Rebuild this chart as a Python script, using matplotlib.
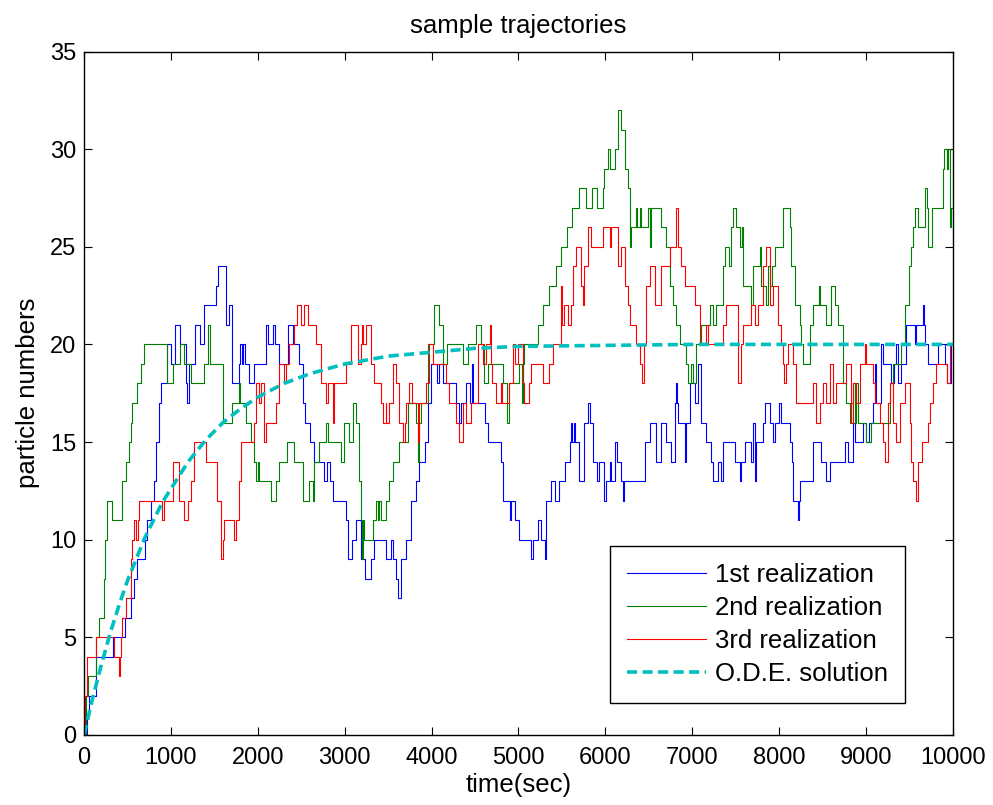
import matplotlib
matplotlib.use('Agg')
import matplotlib.pyplot as plt

# step trajectories: (time, particle number) at each jump
blue = [(0, 0), (30, 1), (60, 2), (134, 4), (330, 5), (440, 5), (470, 6), (540, 7), (580, 8),
        (615, 9), (700, 10), (730, 11), (770, 12), (800, 13), (830, 15), (860, 17), (890, 18), (950, 20),
        (1000, 19), (1050, 21), (1100, 20), (1170, 18), (1180, 17), (1210, 19), (1280, 21), (1330, 20),
        (1380, 22), (1517, 23), (1544, 24), (1632, 21), (1670, 22), (1701, 18), (1780, 19), (1800, 20),
        (1815, 19), (1830, 20), (1850, 19), (1900, 18), (1960, 19), (2090, 21), (2120, 20), (2180, 21),
        (2200, 20), (2240, 19), (2350, 21), (2400, 20), (2470, 19), (2520, 17), (2540, 16), (2600, 15),
        (2650, 14), (2760, 13), (2800, 14), (2830, 13), (2860, 12), (3015, 11), (3035, 9), (3090, 10),
        (3130, 11), (3190, 9), (3230, 8), (3300, 9), (3340, 10), (3480, 9), (3530, 10), (3560, 9),
        (3590, 8), (3610, 7), (3650, 9), (3710, 10), (3760, 12), (3820, 13), (3860, 14), (3920, 15),
        (3960, 17), (3995, 19), (4060, 18), (4080, 19), (4130, 18), (4280, 17), (4320, 16), (4340, 17),
        (4400, 18), (4440, 17), (4460, 19), (4475, 17), (4610, 16), (4650, 15), (4800, 14), (4820, 12),
        (4900, 11), (4910, 12), (4955, 11), (5005, 10), (5145, 9), (5165, 10), (5220, 11), (5260, 10),
        (5300, 9), (5320, 12), (5380, 13), (5420, 12), (5470, 13), (5540, 14), (5590, 15), (5610, 16),
        (5620, 15), (5640, 16), (5650, 15), (5700, 13), (5760, 16), (5800, 17), (5820, 16), (5855, 14),
        (5900, 13), (5930, 14), (5990, 12), (6010, 13), (6050, 14), (6070, 13), (6106, 15), (6140, 14),
        (6183, 13), (6200, 12), (6220, 13), (6451, 15), (6509, 16), (6586, 14), (6643, 16), (6701, 15),
        (6759, 14), (6797, 17), (6810, 18), (6820, 17), (6835, 16), (6912, 14), (6931, 16), (6970, 18),
        (7027, 17), (7066, 19), (7104, 16), (7162, 15), (7219, 14), (7239, 13), (7296, 14), (7330, 13),
        (7354, 15), (7488, 14), (7546, 13), (7565, 14), (7604, 15), (7681, 14), (7700, 16), (7719, 13),
        (7738, 15), (7815, 16), (7834, 17), (7892, 16), (7930, 15), (7949, 16), (8000, 17), (8026, 16),
        (8122, 15), (8150, 14), (8161, 12), (8218, 11), (8228, 12), (8237, 13), (8391, 15), (8487, 14),
        (8545, 13), (8583, 14), (8756, 15), (8794, 14), (8852, 16), (8871, 15), (8967, 16), (9000, 15),
        (9040, 16), (9082, 17), (9101, 19), (9110, 17), (9178, 20), (9197, 19), (9293, 18), (9320, 19),
        (9350, 20), (9370, 18), (9408, 19), (9466, 21), (9562, 20), (9581, 21), (9655, 22), (9662, 21),
        (9677, 20), (9715, 19), (9830, 20), (9907, 19), (9927, 18), (9984, 20), (10000, 20)]

green = [(0, 0), (20, 2), (50, 3), (134, 5), (173, 6), (231, 8), (245, 10), (269, 12), (327, 11),
         (442, 13), (481, 14), (519, 15), (540, 16), (558, 17), (615, 18), (654, 19), (690, 20), (960, 18),
         (1020, 19), (1100, 20), (1150, 19), (1230, 18), (1385, 19), (1430, 21), (1445, 19), (1594, 16),
         (1709, 17), (1786, 18), (1790, 17), (1862, 16), (1920, 15), (1958, 14), (1978, 13), (2000, 14),
         (2010, 13), (2150, 12), (2208, 13), (2246, 14), (2342, 15), (2419, 14), (2515, 12), (2592, 13),
         (2630, 12), (2650, 14), (2707, 15), (2784, 16), (2803, 15), (2957, 14), (2996, 16), (3050, 15),
         (3092, 17), (3130, 16), (3168, 13), (3188, 11), (3200, 9), (3215, 11), (3226, 10), (3322, 11),
         (3360, 12), (3380, 11), (3400, 12), (3418, 11), (3480, 12), (3514, 13), (3552, 14), (3629, 15),
         (3725, 17), (3821, 16), (3840, 14), (3860, 16), (3879, 17), (3956, 20), (4032, 22), (4090, 21),
         (4128, 19), (4180, 20), (4359, 19), (4417, 20), (4512, 21), (4570, 20), (4608, 18), (4646, 19),
         (4819, 18), (4865, 16), (4888, 18), (5011, 19), (5040, 17), (5050, 19), (5069, 20), (5222, 21),
         (5280, 22), (5357, 23), (5433, 24), (5491, 25), (5560, 26), (5620, 27), (5700, 28), (5780, 27),
         (5850, 28), (5900, 27), (5971, 28), (5990, 29), (6029, 30), (6048, 29), (6106, 30), (6144, 32),
         (6183, 31), (6221, 29), (6260, 28), (6279, 25), (6298, 26), (6350, 27), (6360, 26), (6400, 27),
         (6410, 26), (6490, 27), (6510, 25), (6528, 27), (6643, 26), (6701, 25), (6739, 23), (6778, 22),
         (6816, 21), (6854, 20), (6931, 19), (6951, 18), (6990, 19), (7010, 18), (7047, 20), (7085, 21),
         (7200, 22), (7239, 21), (7277, 22), (7354, 24), (7373, 25), (7420, 24), (7450, 26), (7470, 27),
         (7508, 26), (7546, 25), (7570, 26), (7585, 23), (7681, 22), (7700, 24), (7777, 25), (7790, 24),
         (7796, 23), (7853, 22), (7873, 24), (7892, 23), (7920, 24), (7949, 25), (8045, 27), (8122, 26),
         (8141, 24), (8180, 22), (8237, 21), (8257, 20), (8276, 19), (8353, 21), (8391, 22), (8460, 23),
         (8475, 22), (8545, 21), (8602, 23), (8641, 22), (8679, 21), (8737, 18), (8775, 17), (8813, 16),
         (8830, 17), (8851, 18), (8870, 16), (8890, 18), (8909, 16), (9005, 15), (9060, 16), (9274, 18),
         (9312, 19), (9408, 20), (9447, 22), (9497, 24), (9523, 25), (9543, 26), (9562, 27), (9600, 26),
         (9677, 28), (9700, 27), (9715, 25), (9754, 27), (9888, 29), (9900, 30), (9927, 29), (9940, 30),
         (9965, 26), (9984, 27), (10000, 27)]

red = [(0, 0), (10, 2), (38, 4), (134, 5), (346, 4), (405, 3), (412, 4), (420, 5), (442, 6), (481, 7),
       (538, 9), (558, 10), (577, 11), (600, 10), (620, 11), (635, 12), (900, 11), (920, 12), (1019, 14),
       (1096, 12), (1150, 11), (1192, 12), (1230, 13), (1269, 15), (1400, 14), (1536, 12), (1574, 9),
       (1594, 10), (1613, 11), (1728, 10), (1747, 11), (1786, 13), (1805, 15), (1958, 16), (1978, 18),
       (2016, 17), (2035, 18), (2074, 15), (2100, 16), (2208, 17), (2246, 19), (2300, 18), (2330, 19),
       (2362, 20), (2419, 21), (2446, 22), (2496, 21), (2534, 22), (2573, 21), (2669, 20), (2726, 18),
       (2784, 17), (2803, 18), (2861, 17), (2870, 16), (2880, 18), (3014, 19), (3072, 21), (3149, 19),
       (3188, 20), (3205, 21), (3215, 20), (3245, 21), (3303, 19), (3341, 18), (3418, 17), (3437, 16),
       (3470, 17), (3480, 16), (3514, 17), (3552, 19), (3591, 18), (3629, 16), (3668, 15), (3690, 16),
       (3706, 17), (3744, 18), (3780, 17), (3840, 15), (3860, 17), (3936, 18), (3975, 20), (4013, 19),
       (4167, 18), (4205, 17), (4282, 16), (4320, 15), (4359, 17), (4400, 16), (4454, 17), (4531, 20),
       (4589, 19), (4627, 20), (4675, 21), (4685, 19), (4700, 18), (4742, 17), (4800, 18), (4810, 17),
       (4896, 18), (4934, 20), (4960, 19), (4992, 20), (5050, 18), (5069, 17), (5126, 18), (5145, 19),
       (5280, 18), (5357, 19), (5395, 20), (5491, 23), (5500, 21), (5529, 22), (5568, 21), (5600, 22),
       (5626, 24), (5664, 25), (5721, 23), (5740, 22), (5760, 24), (5798, 26), (5837, 25), (5971, 26),
       (6048, 25), (6067, 26), (6144, 24), (6183, 25), (6221, 23), (6260, 22), (6279, 21), (6355, 20),
       (6394, 19), (6425, 18), (6440, 20), (6471, 23), (6509, 24), (6567, 22), (6643, 24), (6739, 25),
       (6816, 27), (6835, 25), (6874, 24), (6912, 23), (7027, 22), (7085, 21), (7104, 20), (7162, 21),
       (7181, 20), (7354, 21), (7392, 22), (7450, 22), (7527, 18), (7565, 20), (7585, 21), (7681, 22),
       (7719, 21), (7757, 22), (7815, 24), (7853, 25), (7892, 22), (7930, 23), (7988, 21), (8026, 20),
       (8045, 19), (8060, 18), (8075, 19), (8103, 20), (8161, 19), (8199, 17), (8391, 18), (8430, 16),
       (8468, 17), (8507, 18), (8545, 17), (8583, 19), (8621, 17), (8660, 18), (8775, 19), (8832, 16),
       (8851, 18), (8890, 17), (8928, 19), (8986, 20), (9005, 19), (9082, 18), (9101, 17), (9159, 16),
       (9197, 15), (9216, 14), (9255, 17), (9274, 18), (9312, 16), (9350, 15), (9389, 17), (9447, 18),
       (9504, 16), (9523, 14), (9543, 13), (9581, 12), (9600, 14), (9639, 15), (9715, 16), (9735, 17),
       (9773, 18), (9811, 19), (9927, 18), (9965, 20), (10000, 20)]

# O.D.E. curve, read at a few times
ode_t = [0, 100, 200, 300, 400, 500, 600, 700, 800, 900, 1000, 1200, 1400, 1600, 1800, 2000,
         2300, 2600, 3000, 3500, 4000, 4500, 5000, 6000, 7000, 8000, 9000, 10000]
ode_n = [0, 1.9, 3.6, 5.2, 6.6, 7.9, 9.0, 10.1, 11.0, 11.9, 12.6, 14.0, 15.1, 16.0, 16.7, 17.3,
         18.0, 18.5, 19.0, 19.4, 19.6, 19.8, 19.9, 19.95, 20, 20, 20, 20]

labels = ['1st realization', '2nd realization', '3rd realization', 'O.D.E. solution']

plt.rcParams['font.family'] = ['Liberation Sans', 'DejaVu Sans']
plt.rcParams['font.size'] = 17

fig = plt.figure(figsize=(9.93, 8.05), dpi=100)
ax = fig.add_axes([0.0846, 0.087, 0.875, 0.849])

for data, col, lab in zip([blue, green, red], ['#0000ff', '#008000', '#ff0000'], labels[:3]):
    t, n = zip(*data)
    ax.step(t, n, where='post', color=col, lw=0.8, label=lab)

ax.plot(ode_t, ode_n, color='#00bfbf', lw=2.6, dashes=(2.8, 1.5), label=labels[3])

ax.set_xlim(0, 10000)
ax.set_ylim(0, 35)
ax.set_xticks(range(0, 10001, 1000))
ax.set_yticks(range(0, 36, 5))
ax.tick_params(direction='in', top=True, right=True, length=6, width=0.8)
ax.tick_params(axis='x', pad=8.5)
ax.tick_params(axis='y', pad=5.5)
for s in ax.spines.values():
    s.set_linewidth(1.0)

ax.set_xlabel('time(sec)', fontsize=18.5, labelpad=3)
ax.set_ylabel('particle numbers', fontsize=18.5, labelpad=7)
ax.set_title('sample trajectories', fontsize=18.5, pad=13)

leg = ax.legend(loc='lower right', bbox_to_anchor=(0.945, 0.047), borderaxespad=0,
                fontsize=18.5, fancybox=False, framealpha=1, edgecolor='black',
                handlelength=3.1, labelspacing=0.35, borderpad=0.65, handletextpad=0.35)
leg.get_frame().set_linewidth(1.0)

fig.savefig('out.png', dpi=100)
